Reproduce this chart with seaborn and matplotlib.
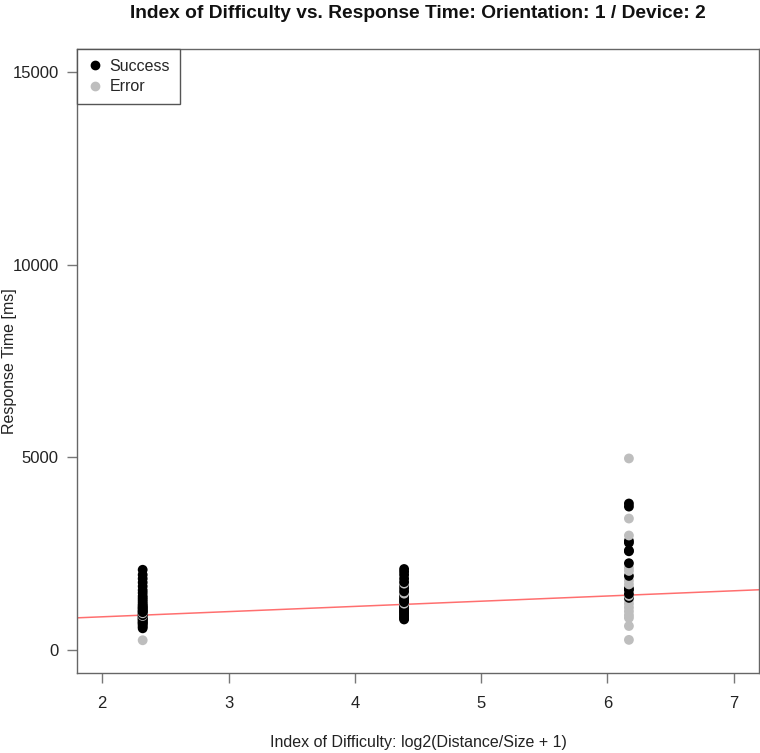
import numpy as np
import pandas as pd
import matplotlib
matplotlib.use("Agg")
import matplotlib.pyplot as plt
import seaborn as sns
from matplotlib.lines import Line2D

# ---- data ----
id_levels = [2.32, 4.39, 6.17]

c1_success = [560, 600, 640, 680, 700, 720, 750, 780, 800, 820, 850, 870, 900, 930, 950,
              980, 1000, 1020, 1050, 1080, 1100, 1130, 1160, 1200, 1250, 1300, 1350, 1400,
              1480, 1550, 1650, 1750, 1850, 1950, 2080]
c1_error = [250, 950, 880]

c2_success = [790, 820, 860, 900, 940, 980, 1010, 1050, 1090, 1120, 1160, 1200, 1240, 1290,
              1340, 1400, 1450, 1520, 1600, 1680, 1760, 1850, 1950, 2030, 2100]
c2_error = [1200, 1460, 1720]

c3_success = [3800, 3720, 2830, 2780, 2580, 2560, 2250, 1920, 1590, 1560, 1450, 1350]
c3_error = [4970, 3410, 2970, 2130, 2050, 1800, 1700, 1400, 1300, 1200, 1100, 1000, 900,
            830, 620, 260]

fit_intercept = 589
fit_slope = 135

x_ticks = [2, 3, 4, 5, 6, 7]
y_ticks = [0, 5000, 10000, 15000]

title = "Index of Difficulty vs. Response Time: Orientation: 1 / Device: 2"
x_label = "Index of Difficulty: log2(Distance/Size + 1)"
y_label = "Response Time [ms]"

# ---- build table ----
rows = []
for idv, succ, err in zip(id_levels, [c1_success, c2_success, c3_success],
                          [c1_error, c2_error, c3_error]):
    for v in succ:
        rows.append((idv, v, "Success"))
    for v in err:
        rows.append((idv, v, "Error"))
df = pd.DataFrame(rows, columns=["ID", "RT", "Status"])
df = df.sort_values("RT", kind="stable").reset_index(drop=True)

sns.set_theme(style="white")
plt.rcParams["font.family"] = ["Liberation Sans", "DejaVu Sans"]

W, H = 760, 753
L, R, T, B = 77, 759, 49, 673
fig = plt.figure(figsize=(W / 100, H / 100), dpi=100)
ax = fig.add_axes([L / W, 1 - B / H, (R - L) / W, (B - T) / H])

ax.axline((0, fit_intercept), slope=fit_slope, color="#ff6f6f", lw=1.1, zorder=1)

sns.scatterplot(data=df, x="ID", y="RT", hue="Status",
                palette={"Success": "black", "Error": "#bebebe"},
                s=50, edgecolor="none", legend=False, ax=ax, zorder=2)

ax.set_xlim(1.80, 7.20)
ax.set_ylim(-600, 15600)
ax.set_xticks(x_ticks)
ax.set_yticks(y_ticks)
ax.set_xticklabels([str(t) for t in x_ticks])
ax.set_yticklabels([str(t) for t in y_ticks])
ax.tick_params(axis="both", direction="out", length=7.2, width=1, color="#777777",
               labelsize=12, labelcolor="#222222", bottom=True, left=True)
ax.tick_params(axis="x", pad=9)
ax.tick_params(axis="y", pad=6)
for sp in ax.spines.values():
    sp.set_color("#666666")
    sp.set_linewidth(1.0)

ax.set_xlabel(x_label, fontsize=11.5, color="#222222")
ax.set_ylabel(y_label, fontsize=11.5, color="#222222")
ax.xaxis.set_label_coords(0.5, (B - 742) / (B - T))
ax.yaxis.set_label_coords((10 - L) / (R - L), 0.5)
ax.xaxis.label.set_va("center")
ax.yaxis.label.set_va("center")
fig.text((L + R) / 2 / W, 1 - 13 / H, title, fontsize=13.8, fontweight="bold",
         color="#111111", ha="center", va="center")

handles = [Line2D([], [], marker="o", ls="none", color="black", markersize=6),
           Line2D([], [], marker="o", ls="none", color="#bebebe", markersize=6)]
leg = ax.legend(handles, ["Success", "Error"], loc="upper left",
                bbox_to_anchor=(0, 1), borderaxespad=0, fancybox=False,
                framealpha=1, edgecolor="#555555", fontsize=11.5,
                handletextpad=0.35, handlelength=1.1, borderpad=0.6,
                labelspacing=0.35)
leg.get_frame().set_linewidth(1.0)

fig.savefig("out.png", dpi=100)
